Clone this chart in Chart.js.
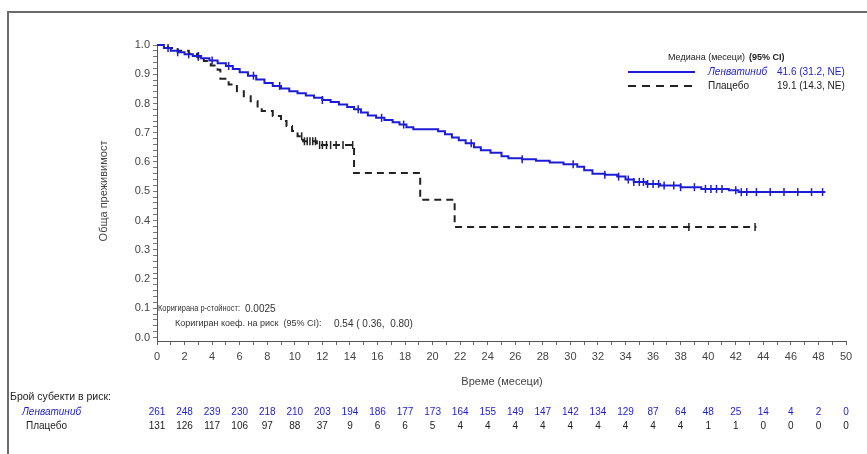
<!DOCTYPE html>
<html lang="bg">
<head>
  <meta charset="UTF-8">
  <title>Обща преживимост</title>
  <script src="https://cdn.jsdelivr.net/npm/chart.js"></script>
  <style>
    body { margin: 0; background: #fff; }
    canvas { display: block; }
  </style>
</head>
<body>
  <canvas id="kmChart" width="867" height="454"></canvas>

  <script>
    // Ленватиниб - Kaplan-Meier (месеци, преживимост)
    const lenvTime = [0, 0.5, 1.0, 1.5, 2.0, 2.6, 3.2, 3.8, 4.4, 5.0, 5.5, 6.0, 6.6, 7.2, 7.8, 8.4, 9.0, 9.6,
      10.2, 10.8, 11.4, 12.0, 12.6, 13.2, 13.8, 14.3, 14.8, 15.3, 15.9, 16.5, 17.1, 17.6, 18.1, 18.6,
      20.4, 20.9, 21.4, 21.9, 22.4, 23.0, 23.5, 24.2, 25.0, 25.5, 26.5, 27.5, 28.5, 29.5, 30.5, 31.0,
      31.6, 32.5, 33.4, 34.0, 34.6, 35.5, 36.5, 38.0, 39.5, 41.5, 42.2, 48.5];
    const lenvSurv = [1.000, 0.990, 0.980, 0.975, 0.968, 0.962, 0.955, 0.947, 0.938, 0.928, 0.918, 0.907, 0.895, 0.882, 0.870, 0.860, 0.851, 0.842,
      0.835, 0.827, 0.820, 0.812, 0.805, 0.797, 0.788, 0.780, 0.769, 0.759, 0.751, 0.744, 0.736, 0.728, 0.719, 0.712,
      0.705, 0.695, 0.684, 0.674, 0.664, 0.650, 0.640, 0.632, 0.620, 0.613, 0.609, 0.604, 0.598, 0.592, 0.584, 0.572,
      0.560, 0.556, 0.550, 0.540, 0.532, 0.525, 0.520, 0.514, 0.508, 0.503, 0.497, 0.497];
    const lenvCens = [0.8, 1.5, 2.3, 3.0, 4.0, 5.2, 7.0, 8.9, 12.0, 14.6, 16.3, 17.9, 22.8, 26.5, 30.2, 32.5, 33.5,
      34.2, 34.6, 35.0, 35.3, 35.6, 36.0, 36.4, 36.8, 37.5, 38.0, 39.0, 39.8, 40.2, 40.6, 41.0, 42.0, 42.4,
      42.8, 43.5, 44.5, 45.5, 46.5, 47.5, 48.3];

    // Плацебо
    const placTime = [0, 0.8, 1.5, 2.3, 2.9, 3.4, 3.9, 4.4, 4.6, 5.2, 5.8, 6.3, 6.8, 7.3, 7.6, 8.4, 9.0, 9.4,
      9.8, 10.2, 10.6, 11.6, 14.3, 19.1, 21.6, 43.5];
    const placSurv = [1.000, 0.990, 0.980, 0.970, 0.960, 0.945, 0.930, 0.915, 0.885, 0.865, 0.842, 0.825, 0.808, 0.790, 0.774, 0.757, 0.740, 0.723,
      0.706, 0.688, 0.671, 0.658, 0.562, 0.471, 0.378, 0.378];
    const placCens = [3.0, 10.5, 10.7, 10.9, 11.1, 11.3, 11.5, 11.8, 12.0, 12.3, 12.6, 13.0, 13.5, 14.2, 38.6, 43.4];

    // Брой субекти в риск
    const riskTimes = [0, 2, 4, 6, 8, 10, 12, 14, 16, 18, 20, 22, 24, 26, 28, 30, 32, 34, 36, 38, 40, 42, 44, 46, 48, 50];
    const lenvRisk = [261, 248, 239, 230, 218, 210, 203, 194, 186, 177, 173, 164, 155, 149, 147, 142, 134, 129, 87, 64, 48, 25, 14, 4, 2, 0];
    const placRisk = [131, 126, 117, 106, 97, 88, 37, 9, 6, 6, 5, 4, 4, 4, 4, 4, 4, 4, 4, 4, 1, 1, 0, 0, 0, 0];

    const yLabels = [0, 0.1, 0.2, 0.3, 0.4, 0.5, 0.6, 0.7, 0.8, 0.9, 1.0];

    const BLUE = '#1c1cd6';
    const DARK = '#222';
    const FONT = '"Liberation Sans", Arial, sans-serif';

    function survAt(times, surv, t) {
      let s = surv[0];
      for (let i = 0; i < times.length; i++) if (times[i] <= t) s = surv[i];
      return s;
    }
    const pts = (t, s) => t.map((v, i) => ({ x: v, y: s[i] }));
    const cens = (c, t, s) => c.map(v => ({ x: v, y: survAt(t, s, v) }));

    // рамка, надписи, легенда и таблица с риск
    const extras = {
      id: 'extras',
      beforeDraw(chart) {
        const ctx = chart.ctx;
        ctx.save();
        ctx.fillStyle = '#fff';
        ctx.fillRect(0, 0, chart.width, chart.height);
        ctx.strokeStyle = '#6b6b6b';
        ctx.lineWidth = 2;
        ctx.beginPath();
        ctx.moveTo(867, 12); ctx.lineTo(8, 12); ctx.lineTo(8, 454);
        ctx.stroke();
        ctx.restore();
      },
      afterDraw(chart) {
        const ctx = chart.ctx;
        const x = chart.scales.x;
        ctx.save();
        ctx.textBaseline = 'middle';

        // заглавие на оста Y
        ctx.save();
        ctx.translate(104, 191);
        ctx.rotate(-Math.PI / 2);
        ctx.fillStyle = '#444';
        ctx.font = '11px ' + FONT;
        ctx.textAlign = 'center';
        ctx.fillText('Обща преживимост', 0, 0);
        ctx.restore();

        // заглавие на оста X
        ctx.fillStyle = '#444';
        ctx.font = '11px ' + FONT;
        ctx.textAlign = 'center';
        ctx.fillText('Време (месеци)', 502, 382);

        // статистика
        ctx.textAlign = 'left';
        ctx.fillStyle = '#333';
        ctx.font = '9px ' + FONT;
        ctx.fillText('Коригирана p-стойност:', 158, 309, 82);
        ctx.font = '10px ' + FONT;
        ctx.fillText('0.0025', 245, 309);
        ctx.font = '9px ' + FONT;
        ctx.fillText('Коригиран коеф. на риск  (95% CI):', 175, 324);
        ctx.font = '10px ' + FONT;
        ctx.fillText('0.54 ( 0.36,  0.80)', 334, 324);

        // легенда
        ctx.fillStyle = '#222';
        ctx.font = '9px ' + FONT;
        ctx.fillText('Медиана (месеци)', 668, 58);
        ctx.font = 'bold 9px ' + FONT;
        ctx.fillText('(95% CI)', 749, 58);
        ctx.lineWidth = 2;
        ctx.strokeStyle = BLUE;
        ctx.beginPath(); ctx.moveTo(628, 72); ctx.lineTo(695, 72); ctx.stroke();
        ctx.strokeStyle = DARK;
        ctx.setLineDash([8, 6]);
        ctx.beginPath(); ctx.moveTo(628, 86); ctx.lineTo(695, 86); ctx.stroke();
        ctx.setLineDash([]);
        ctx.fillStyle = BLUE;
        ctx.font = 'italic 10px ' + FONT;
        ctx.fillText('Ленватиниб', 708, 72);
        ctx.font = '10px ' + FONT;
        ctx.fillText('41.6 (31.2, NE)', 777, 72);
        ctx.fillStyle = '#222';
        ctx.fillText('Плацебо', 708, 86);
        ctx.fillText('19.1 (14.3, NE)', 777, 86);

        // таблица с брой в риск
        ctx.fillStyle = '#222';
        ctx.font = '10.5px ' + FONT;
        ctx.fillText('Брой субекти в риск:', 10, 397);
        ctx.fillStyle = BLUE;
        ctx.font = 'italic 10px ' + FONT;
        ctx.fillText('Ленватиниб', 22, 412);
        ctx.fillStyle = '#222';
        ctx.font = '10px ' + FONT;
        ctx.fillText('Плацебо', 26, 426);
        ctx.textAlign = 'center';
        riskTimes.forEach((t, i) => {
          const px = x.getPixelForValue(t);
          ctx.fillStyle = BLUE;
          ctx.fillText(String(lenvRisk[i]), px, 412);
          ctx.fillStyle = '#222';
          ctx.fillText(String(placRisk[i]), px, 426);
        });
        ctx.restore();
      }
    };

    const ctx = document.getElementById('kmChart').getContext('2d');
    new Chart(ctx, {
      type: 'line',
      data: {
        datasets: [
          {
            label: 'Ленватиниб',
            data: pts(lenvTime, lenvSurv),
            borderColor: BLUE,
            borderWidth: 2,
            stepped: 'before',
            pointRadius: 0,
            clip: 6
          },
          {
            label: 'Плацебо',
            data: pts(placTime, placSurv),
            borderColor: DARK,
            borderWidth: 2,
            borderDash: [7, 5],
            stepped: 'before',
            pointRadius: 0,
            clip: 6
          },
          {
            label: 'cens1',
            data: cens(lenvCens, lenvTime, lenvSurv),
            showLine: false,
            pointStyle: 'line',
            rotation: 90,
            pointRadius: 4,
            borderColor: BLUE,
            borderWidth: 1.5,
            clip: 6
          },
          {
            label: 'cens2',
            data: cens(placCens, placTime, placSurv),
            showLine: false,
            pointStyle: 'line',
            rotation: 90,
            pointRadius: 4,
            borderColor: DARK,
            borderWidth: 1.5,
            clip: 6
          }
        ]
      },
      options: {
        responsive: false,
        animation: false,
        events: [],
        layout: { padding: { left: 0, top: 45, right: 21, bottom: 0 } },
        plugins: { legend: { display: false }, tooltip: { enabled: false } },
        scales: {
          x: {
            type: 'linear',
            min: 0,
            max: 50,
            afterFit: s => { s.height = 113; },
            grid: { drawOnChartArea: false, tickLength: 4, color: '#666' },
            border: { color: '#555', width: 1 },
            ticks: {
              stepSize: 1,
              autoSkip: false,
              maxRotation: 0,
              padding: 5,
              color: '#444',
              font: { family: FONT, size: 11 },
              callback: v => (v % 2 === 0 ? v : '')
            }
          },
          y: {
            type: 'linear',
            min: -0.012,
            max: 1.0,
            afterFit: s => { s.width = 157; },
            afterBuildTicks: s => {
              const t = [];
              for (let i = 0; i <= 50; i++) t.push({ value: i / 50 });
              s.ticks = t;
            },
            grid: { drawOnChartArea: false, tickLength: 4, color: '#777' },
            border: { color: '#555', width: 1 },
            ticks: {
              autoSkip: false,
              padding: 3,
              color: '#444',
              font: { family: FONT, size: 11 },
              callback: (v, i) => (i % 5 === 0 ? yLabels[i / 5].toFixed(1) : '')
            }
          }
        }
      },
      plugins: [extras]
    });
  </script>
</body>
</html>
